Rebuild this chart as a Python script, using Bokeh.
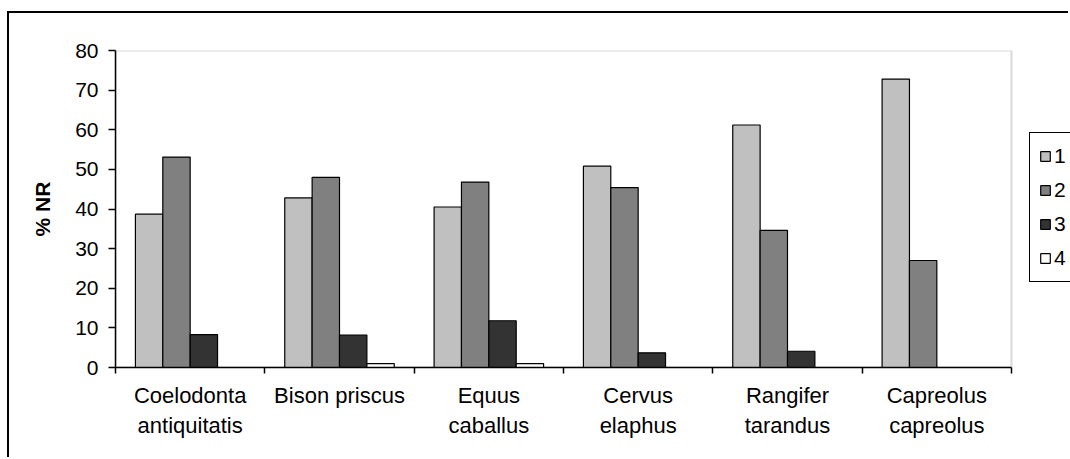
import numpy as np
from bokeh.plotting import figure
from bokeh.models import FixedTicker, Legend, LegendItem, Range1d, BoxAnnotation
from bokeh.embed import file_html
from bokeh.resources import INLINE

categories = ["Coelodonta\nantiquitatis", "Bison priscus", "Equus\ncaballus",
              "Cervus\nelaphus", "Rangifer\ntarandus", "Capreolus\ncapreolus"]
series_names = ["1", "2", "3", "4"]
s1 = [38.7, 42.8, 40.5, 50.8, 61.2, 72.8]
s2 = [53.1, 48.0, 46.8, 45.4, 34.6, 27.0]
s3 = [8.3, 8.2, 11.8, 3.7, 4.1, 0.0]
s4 = [0.0, 1.0, 1.0, 0.0, 0.0, 0.0]
y_ticks = [0, 10, 20, 30, 40, 50, 60, 70, 80]

series = [s1, s2, s3, s4]
colors = ["#C0C0C0", "#808080", "#333333", "#FFFFFF"]

FONT = "Liberation Sans"
n = len(categories)

# plot area spans 896 px for the 6 categories; extra room on the right for the legend
px_per_cat = 896 / n
x_extra = 59 / px_per_cat

p = figure(width=1061, height=446, output_backend="svg", toolbar_location=None,
           x_range=Range1d(0, n + x_extra), y_range=Range1d(0, 80),
           min_border_left=106, min_border_right=0, min_border_top=37, min_border_bottom=92)
p.margin = (11, 0, 0, 7)
p.styles = {"border-top": "2px solid black", "border-left": "2px solid black"}

p.xgrid.visible = False
p.ygrid.visible = False
p.outline_line_color = None

# plot-area frame (grey top/right edges)
frame_box = BoxAnnotation(left=0, right=n, bottom=0, top=80, fill_color=None,
                          line_color="#808080", line_width=2, level="underlay")
p.add_layout(frame_box)

idx = np.arange(n)
bw = 0.1833
offsets = [-1.5 * bw, -0.5 * bw, 0.5 * bw, 1.5 * bw]
renderers = []
for k, vals in enumerate(series):
    r = p.vbar(x=idx + 0.5 + offsets[k], top=vals, bottom=0, width=bw,
               fill_color=colors[k], line_color="black", line_width=1.2)
    renderers.append(r)

# x axis: labels at centers, ticks at boundaries
p.xaxis.bounds = (0, n)
p.xaxis.ticker = FixedTicker(ticks=list(idx + 0.5), minor_ticks=list(range(n + 1)))
p.xaxis.major_label_overrides = {float(i + 0.5): c for i, c in enumerate(categories)}
p.xaxis.major_tick_out = 0
p.xaxis.major_tick_in = 0
p.xaxis.minor_tick_out = 6
p.xaxis.minor_tick_in = 0
p.xaxis.minor_tick_line_color = "black"
p.xaxis.minor_tick_line_width = 1.5
p.xaxis.axis_line_color = "black"
p.xaxis.axis_line_width = 1.5
p.xaxis.major_label_text_font = FONT
p.xaxis.major_label_text_font_size = "22px"
p.xaxis.major_label_text_color = "black"
p.xaxis.major_label_standoff = 9

p.yaxis.ticker = FixedTicker(ticks=y_ticks, minor_ticks=[])
p.yaxis.major_tick_out = 7
p.yaxis.major_tick_in = 0
p.yaxis.major_tick_line_color = "black"
p.yaxis.major_tick_line_width = 1.5
p.yaxis.axis_line_color = "black"
p.yaxis.axis_line_width = 1.5
p.yaxis.major_label_text_font = FONT
p.yaxis.major_label_text_font_size = "21px"
p.yaxis.major_label_text_color = "black"
p.yaxis.major_label_standoff = 10
p.yaxis.axis_label = "% NR"
p.yaxis.axis_label_text_font = FONT
p.yaxis.axis_label_text_font_size = "21px"
p.yaxis.axis_label_text_font_style = "bold"
p.yaxis.axis_label_text_color = "black"
p.yaxis.axis_label_standoff = 18

legend = Legend(items=[LegendItem(label=series_names[k], renderers=[renderers[k]]) for k in range(4)],
                location=(914, 85), orientation="vertical")
legend.margin = 0
legend.padding = 9
legend.glyph_width = 12
legend.glyph_height = 12
legend.label_height = 28
legend.label_standoff = 3
legend.spacing = 6
legend.label_text_font = FONT
legend.label_text_font_size = "21px"
legend.label_text_color = "black"
legend.border_line_color = "black"
legend.border_line_alpha = 1.0
legend.border_line_width = 1.5
legend.background_fill_color = "white"
legend.background_fill_alpha = 1.0
p.add_layout(legend, "center")

open("out.html", "w").write(file_html(p, INLINE))
